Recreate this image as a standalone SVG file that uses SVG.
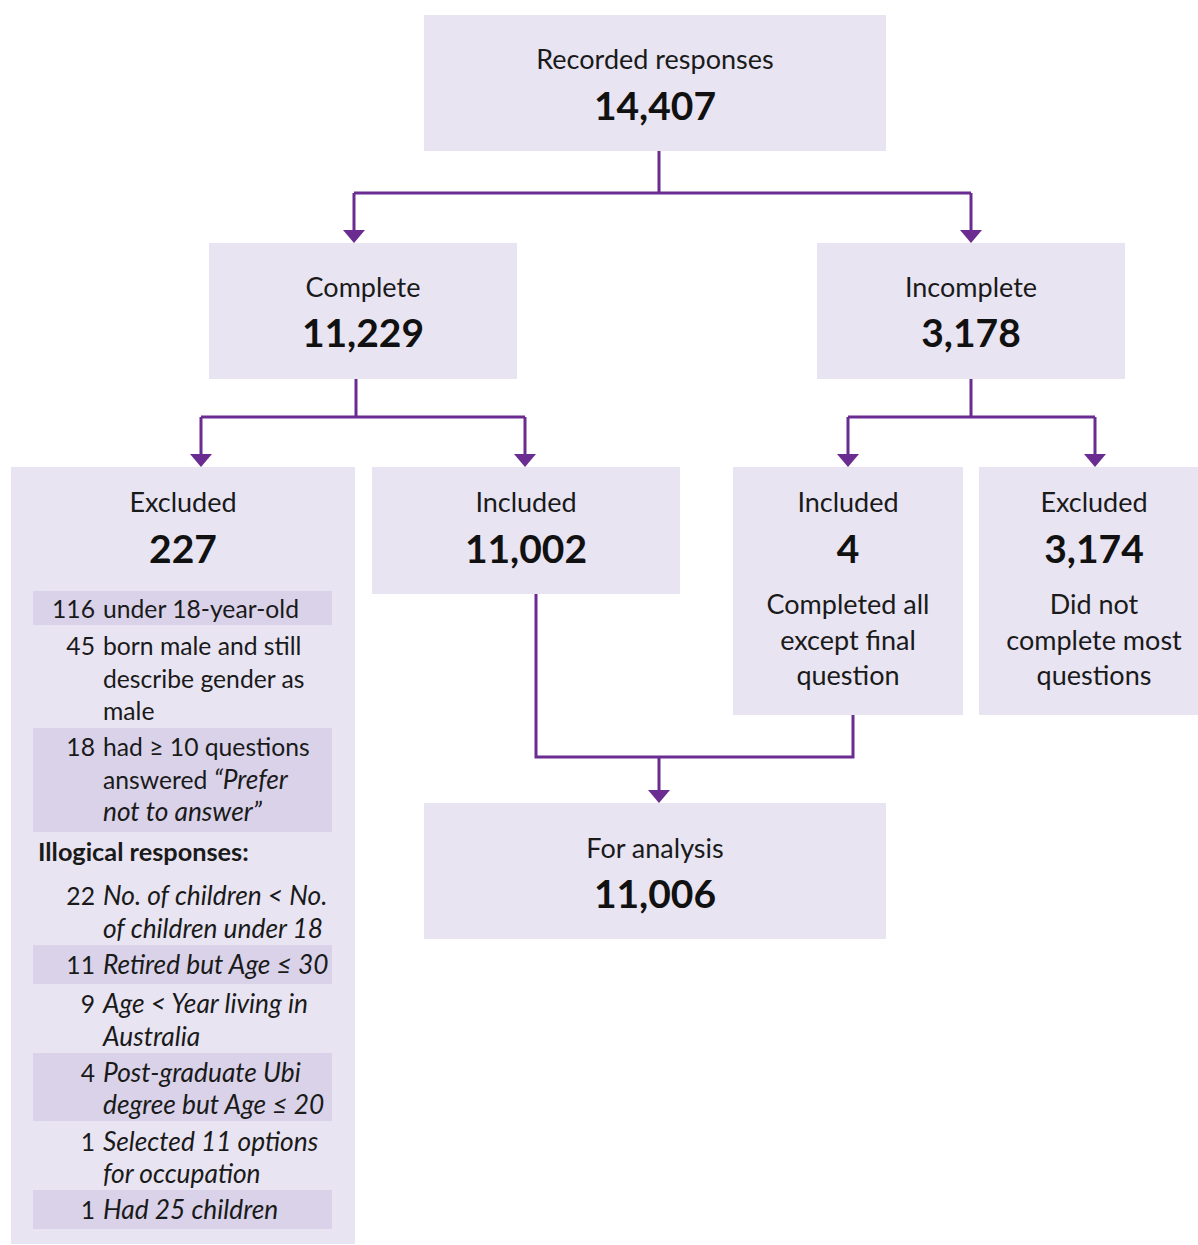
<svg xmlns="http://www.w3.org/2000/svg" width="1198" height="1245" viewBox="0 0 1198 1245">
<defs>
<style>
.box{fill:#E8E4F2}
.stripe{fill:#D9D2E9}
.lbl{font-family:Lato,"Open Sans",sans-serif;font-size:27px;fill:#1a1a1a;text-anchor:middle}
.num{font-family:Lato,"Open Sans",sans-serif;font-size:39px;font-weight:bold;fill:#111;text-anchor:middle}
.li{font-family:Lato,"Open Sans",sans-serif;font-size:24.7px;fill:#1a1a1a}
.r{text-anchor:end}
.it{font-style:italic;font-size:26.3px}
.b{font-weight:bold;font-size:25.3px}
.conn{fill:none;stroke:#6A2C91;stroke-width:3}
.ah{fill:#6A2C91}
</style>
</defs>
<rect width="1198" height="1245" fill="#fff"/>
<g id="connectors">
<path class="conn" d="M659,151 V193 M354,193 H971 M354,193 V232 M971,193 V232"/>
<path class="conn" d="M356,379 V417 M201,417 H525 M201,417 V456 M525,417 V456"/>
<path class="conn" d="M971,379 V417 M848,417 H1095 M848,417 V456 M1095,417 V456"/>
<path class="conn" d="M536,594 V757 H853 V715 M659,757 V792"/>
<polygon class="ah" points="343,230 365,230 354,243"/>
<polygon class="ah" points="960,230 982,230 971,243"/>
<polygon class="ah" points="190,454 212,454 201,467"/>
<polygon class="ah" points="514,454 536,454 525,467"/>
<polygon class="ah" points="837,454 859,454 848,467"/>
<polygon class="ah" points="1084,454 1106,454 1095,467"/>
<polygon class="ah" points="648,790 670,790 659,803"/>
</g>
<g id="recorded">
<rect class="box" x="424" y="15" width="462" height="136"/>
<text class="lbl" x="655" y="69">Recorded responses</text>
<text class="num" x="655" y="120">14,407</text>
</g>
<g id="complete">
<rect class="box" x="209" y="243" width="308" height="136"/>
<text class="lbl" x="363" y="297">Complete</text>
<text class="num" x="363" y="347">11,229</text>
</g>
<g id="incomplete">
<rect class="box" x="817" y="243" width="308" height="136"/>
<text class="lbl" x="971" y="297">Incomplete</text>
<text class="num" x="971" y="347">3,178</text>
</g>
<g id="excluded-complete">
<rect class="box" x="11" y="467" width="344" height="777"/>
<text class="lbl" x="183" y="512">Excluded</text>
<text class="num" x="183" y="563">227</text>
<rect class="stripe" x="33" y="591" width="299" height="34"/>
<rect class="stripe" x="33" y="728" width="299" height="104"/>
<rect class="stripe" x="33" y="945" width="299" height="39"/>
<rect class="stripe" x="33" y="1053" width="299" height="68"/>
<rect class="stripe" x="33" y="1190" width="299" height="39"/>
<text class="li r" x="95" y="618">116</text><text class="li" x="103" y="618">under 18-year-old</text>
<text class="li r" x="95" y="655">45</text><text class="li" x="103" y="655">born male and still</text>
<text class="li" x="103" y="688">describe gender as</text>
<text class="li" x="103" y="720">male</text>
<text class="li r" x="95" y="756">18</text><text class="li" x="103" y="756">had ≥ 10 questions</text>
<text class="li" x="103" y="789">answered <tspan class="it">“Prefer</tspan></text>
<text class="li it" x="103" y="821">not to answer”</text>
<text class="li b" x="38" y="861">Illogical responses:</text>
<text class="li r" x="95" y="905">22</text><text class="li it" x="103" y="905">No. of children &lt; No.</text>
<text class="li it" x="103" y="938">of children under 18</text>
<text class="li r" x="95" y="974">11</text><text class="li it" x="103" y="974">Retired but Age ≤ 30</text>
<text class="li r" x="95" y="1013">9</text><text class="li it" x="103" y="1013">Age &lt; Year living in</text>
<text class="li it" x="103" y="1046">Australia</text>
<text class="li r" x="95" y="1082">4</text><text class="li it" x="103" y="1082">Post-graduate Ubi</text>
<text class="li it" x="103" y="1114">degree but Age ≤ 20</text>
<text class="li r" x="95" y="1151">1</text><text class="li it" x="103" y="1151">Selected 11 options</text>
<text class="li it" x="103" y="1183">for occupation</text>
<text class="li r" x="95" y="1219">1</text><text class="li it" x="103" y="1219">Had 25 children</text>
</g>
<g id="included-complete">
<rect class="box" x="372" y="467" width="308" height="127"/>
<text class="lbl" x="526" y="512">Included</text>
<text class="num" x="526" y="563">11,002</text>
</g>
<g id="included-incomplete">
<rect class="box" x="733" y="467" width="230" height="248"/>
<text class="lbl" x="848" y="512">Included</text>
<text class="num" x="848" y="563">4</text>
<text class="lbl" x="848" y="614">Completed all</text>
<text class="lbl" x="848" y="650">except final</text>
<text class="lbl" x="848" y="685">question</text>
</g>
<g id="excluded-incomplete">
<rect class="box" x="979" y="467" width="219" height="248"/>
<text class="lbl" x="1094" y="512">Excluded</text>
<text class="num" x="1094" y="563">3,174</text>
<text class="lbl" x="1094" y="614">Did not</text>
<text class="lbl" x="1094" y="650">complete most</text>
<text class="lbl" x="1094" y="685">questions</text>
</g>
<g id="analysis">
<rect class="box" x="424" y="803" width="462" height="136"/>
<text class="lbl" x="655" y="858">For analysis</text>
<text class="num" x="655" y="908">11,006</text>
</g>
</svg>
